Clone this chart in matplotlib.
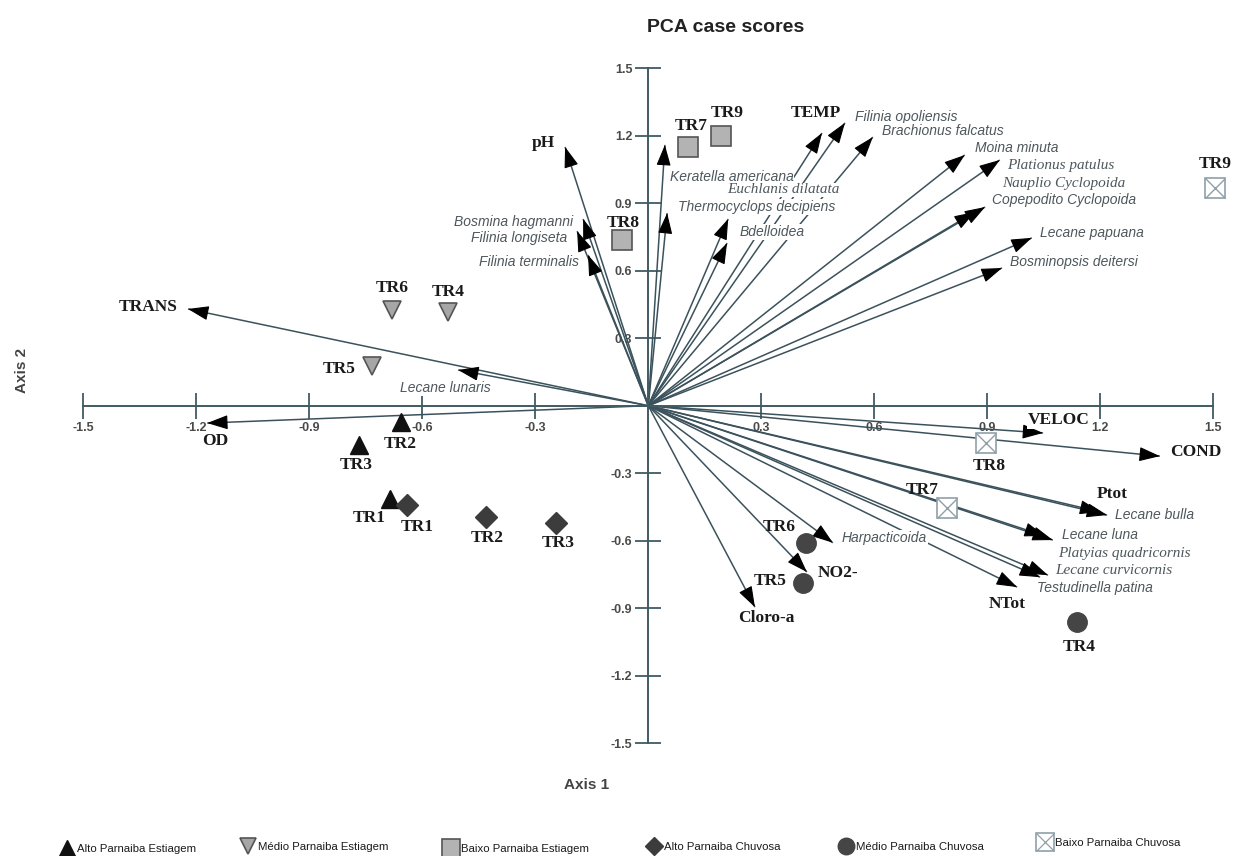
import matplotlib
matplotlib.use("Agg")
import matplotlib.pyplot as plt

# sample scores (axis 1, axis 2) by group
alto_est_names = ["TR1", "TR2", "TR3"]
alto_est_ax1 = [-0.686, -0.657, -0.769]
alto_est_ax2 = [-0.414, -0.072, -0.175]

medio_est_names = ["TR4", "TR5", "TR6"]
medio_est_ax1 = [-0.532, -0.734, -0.681]
medio_est_ax2 = [0.416, 0.176, 0.425]

baixo_est_names = ["TR7", "TR8", "TR9"]
baixo_est_ax1 = [0.105, -0.070, 0.193]
baixo_est_ax2 = [1.150, 0.736, 1.199]

alto_chu_names = ["TR1", "TR2", "TR3"]
alto_chu_ax1 = [-0.641, -0.431, -0.245]
alto_chu_ax2 = [-0.441, -0.494, -0.521]

medio_chu_names = ["TR4", "TR5", "TR6"]
medio_chu_ax1 = [1.138, 0.410, 0.419]
medio_chu_ax2 = [-0.963, -0.788, -0.610]

baixo_chu_names = ["TR7", "TR8", "TR9"]
baixo_chu_ax1 = [0.793, 0.896, 1.504]
baixo_chu_ax2 = [-0.455, -0.166, 0.968]

# environmental variable vectors
var_names = ["TRANS", "OD", "pH", "TEMP", "VELOC", "COND", "Ptot", "NTot", "NO2-", "Cloro-a"]
var_ax1 = [-1.222, -1.171, -0.221, 0.461, 1.048, 1.358, 1.218, 0.979, 0.421, 0.283]
var_ax2 = [0.430, -0.077, 1.150, 1.212, -0.121, -0.224, -0.486, -0.806, -0.739, -0.895]

# species vectors
sp_names = ["Lecane lunaris", "Bosmina hagmanni", "Filinia longiseta", "Filinia terminalis",
            "Keratella americana", "Thermocyclops decipiens", "Euchlanis dilatata", "Bdelloidea",
            "Filinia opoliensis", "Brachionus falcatus", "Moina minuta", "Plationus patulus",
            "Nauplio Cyclopoida", "Copepodito Cyclopoida", "Lecane papuana", "Bosminopsis deitersi",
            "Lecane bulla", "Lecane luna", "Platyias quadricornis", "Lecane curvicornis",
            "Testudinella patina", "Harpacticoida"]
sp_ax1 = [-0.505, -0.173, -0.189, -0.160, 0.044, 0.050, 0.212, 0.209, 0.522, 0.596, 0.840, 0.933,
          0.867, 0.894, 1.018, 0.939, 1.200, 1.074, 1.053, 1.061, 1.040, 0.490]
sp_ax2 = [0.159, 0.830, 0.776, 0.670, 1.159, 0.856, 0.830, 0.723, 1.257, 1.194, 1.114, 1.092,
          0.861, 0.883, 0.746, 0.612, -0.472, -0.597, -0.579, -0.753, -0.762, -0.609]
serif_species = {"Euchlanis dilatata", "Plationus patulus", "Nauplio Cyclopoida",
                 "Platyias quadricornis", "Lecane curvicornis"}

ticks = [-1.5, -1.2, -0.9, -0.6, -0.3, 0.3, 0.6, 0.9, 1.2, 1.5]
tick_labels = ["-1.5", "-1.2", "-0.9", "-0.6", "-0.3", "0.3", "0.6", "0.9", "1.2", "1.5"]

legend_labels = ["Alto Parnaiba Estiagem", "Médio Parnaiba Estiagem", "Baixo Parnaiba Estiagem",
                 "Alto Parnaiba Chuvosa", "Médio Parnaiba Chuvosa", "Baixo Parnaiba Chuvosa"]

# label placement (offset in pixels from the arrow tip, alignment)
var_offsets = {
    "TRANS": (-10, 2, "right"), "OD": (8, -18, "center"), "pH": (-10, 4, "right"),
    "TEMP": (-6, 20, "center"), "VELOC": (-15, 13, "left"), "COND": (10, 4, "left"),
    "Ptot": (-10, 21, "left"), "NTot": (-10, -17, "center"), "NO2-": (11, -1, "left"),
    "Cloro-a": (11, -11, "center"),
}
sp_offsets = {
    "Lecane lunaris": (-13, -18, "center"), "Bosmina hagmanni": (-10, -3, "right"),
    "Filinia longiseta": (-10, -7, "right"), "Filinia terminalis": (-9, -7, "right"),
    "Keratella americana": (5, -32, "left"), "Thermocyclops decipiens": (11, 6, "left"),
    "Euchlanis dilatata": (-1, 29, "left"), "Bdelloidea": (13, 11, "left"),
    "Filinia opoliensis": (10, 6, "left"), "Brachionus falcatus": (9, 6, "left"),
    "Moina minuta": (10, 7, "left"), "Plationus patulus": (7, -6, "left"),
    "Nauplio Cyclopoida": (27, 28, "left"), "Copepodito Cyclopoida": (7, 7, "left"),
    "Lecane papuana": (8, 5, "left"), "Bosminopsis deitersi": (8, 6, "left"),
    "Lecane bulla": (15, -3, "left"), "Lecane luna": (9, 5, "left"),
    "Platyias quadricornis": (13, -17, "left"), "Lecane curvicornis": (7, 5, "left"),
    "Testudinella patina": (-3, -11, "left"), "Harpacticoida": (9, 5, "left"),
}

W, H = 1239, 856
AXIS_C = "#405a64"
LINE_C = "#3b525c"
SP_C = "#4d575c"
SERIF = "Liberation Serif"
SANS = "Liberation Sans"

fig = plt.figure(figsize=(W / 100, H / 100), dpi=100)
ax = fig.add_axes([0, 0, 1, 1])
ax.set_xlim(-1.721, 1.568)
ax.set_ylim(-2.001, 1.803)
ax.patch.set_alpha(0)

# axes crossing at the origin
for side in ["top", "right"]:
    ax.spines[side].set_visible(False)
ax.spines["left"].set_position(("data", 0))
ax.spines["bottom"].set_position(("data", 0))
ax.spines["left"].set_bounds(-1.5, 1.5)
ax.spines["bottom"].set_bounds(-1.5, 1.5)
for side in ["left", "bottom"]:
    ax.spines[side].set_color(AXIS_C)
    ax.spines[side].set_linewidth(1.4)
ax.set_xticks(ticks)
ax.set_yticks(ticks)
ax.set_xticklabels(tick_labels, fontsize=9, fontweight="bold", family=SANS, color="#4a4a4a")
ax.set_yticklabels(tick_labels, fontsize=9, fontweight="bold", family=SANS, color="#4a4a4a")
ax.tick_params(direction="inout", length=19, width=1.3, color=AXIS_C, pad=2)


def arrow(x, y):
    ax.plot([0, x], [0, y], color=LINE_C, lw=1.1, zorder=2, solid_capstyle="butt")
    ax.annotate("", xy=(x, y), xytext=(0.985 * x, 0.985 * y),
                arrowprops=dict(arrowstyle="-|>,head_length=1.3,head_width=0.45",
                                color="black", lw=0.8, shrinkA=0, shrinkB=0, mutation_scale=10),
                zorder=3)


for name, x, y in zip(sp_names, sp_ax1, sp_ax2):
    arrow(x, y)
    dx, dy, ha = sp_offsets[name]
    if name in serif_species:
        fam, fs = SERIF, 11
    else:
        fam, fs = SANS, 10
    ax.annotate(name, xy=(x, y), xytext=(dx, dy), textcoords="offset pixels",
                ha=ha, va="center", fontsize=fs, style="italic", family=fam, color=SP_C,
                zorder=4, bbox=dict(facecolor="white", edgecolor="none", pad=0.5))

for name, x, y in zip(var_names, var_ax1, var_ax2):
    arrow(x, y)
    dx, dy, ha = var_offsets[name]
    ax.annotate(name, xy=(x, y), xytext=(dx, dy), textcoords="offset pixels",
                ha=ha, va="center", fontsize=12.5, fontweight="bold", family=SERIF,
                color="#1a1a1a", zorder=4,
                bbox=dict(facecolor="white", edgecolor="none", pad=0.5))

# sample groups: marker style and label offsets (pixels)
groups = [
    (alto_est_names, alto_est_ax1, alto_est_ax2,
     dict(marker="^", ms=13, mfc="#111111", mec="#111111"),
     [(-21, -19), (-1, -22), (-2, -20)]),
    (medio_est_names, medio_est_ax1, medio_est_ax2,
     dict(marker="v", ms=13, mfc="#a6a6a6", mec="#555555", mew=1.2),
     [(0, 20), (-33, -3), (0, 22)]),
    (baixo_est_names, baixo_est_ax1, baixo_est_ax2,
     dict(marker="s", ms=15, mfc="#b3b3b3", mec="#555555", mew=1.2),
     [(3, 21), (1, 17), (6, 23)]),
    (alto_chu_names, alto_chu_ax1, alto_chu_ax2,
     dict(marker="D", ms=11, mfc="#3c3c3c", mec="#3c3c3c"),
     [(10, -22), (1, -21), (2, -20)]),
    (medio_chu_names, medio_chu_ax1, medio_chu_ax2,
     dict(marker="o", ms=14, mfc="#454545", mec="#454545"),
     [(2, -25), (-33, 2), (-27, 16)]),
    (baixo_chu_names, baixo_chu_ax1, baixo_chu_ax2,
     dict(marker="s", ms=15, mfc="white", mec="#8fa0a8", mew=1.2),
     [(-25, 18), (3, -23), (0, 24)]),
]

for names, xs, ys, style, offs in groups:
    ax.plot(xs, ys, ls="none", zorder=6, **style)
    if style["mfc"] == "white":
        ax.plot(xs, ys, ls="none", marker="x", ms=15, mec="#8fa0a8", mew=1.0, zorder=7)
    for name, x, y, (dx, dy) in zip(names, xs, ys, offs):
        ax.annotate(name, xy=(x, y), xytext=(dx, dy), textcoords="offset pixels",
                    ha="center", va="center", fontsize=12.5, fontweight="bold",
                    family=SERIF, color="#1a1a1a", zorder=8)

fig.text(726 / W, 1 - 27 / H, "PCA case scores", ha="center", va="center",
         fontsize=14, fontweight="bold", family=SANS, color="#222222")
fig.text(587 / W, 1 - 785 / H, "Axis 1", ha="center", va="center",
         fontsize=11, fontweight="bold", family=SANS, color="#444444")
fig.text(22 / W, 1 - 370 / H, "Axis 2", ha="center", va="center", rotation=90,
         fontsize=11, fontweight="bold", family=SANS, color="#444444")

# legend row along the bottom, drawn in pixel coordinates
lax = fig.add_axes([0, 0, 1, 1])
lax.set_xlim(0, W)
lax.set_ylim(H, 0)
lax.axis("off")
leg_x = [67, 248, 451, 654, 846, 1045]
leg_y = [848, 846, 848, 846, 846, 842]
leg_styles = [g[3] for g in groups]
for lbl, lx, ly, st in zip(legend_labels, leg_x, leg_y, leg_styles):
    st = dict(st)
    st["ms"] = st["ms"] * 0.85
    lax.plot([lx], [ly], ls="none", **st)
    if st["mfc"] == "white":
        lax.plot([lx], [ly], ls="none", marker="x", ms=st["ms"], mec="#8fa0a8", mew=0.9)
    lax.text(lx + 10, ly + 1, lbl, ha="left", va="center", fontsize=8.2,
             family=SANS, color="#1a1a1a")

fig.savefig("out.png", dpi=100, facecolor="white")
